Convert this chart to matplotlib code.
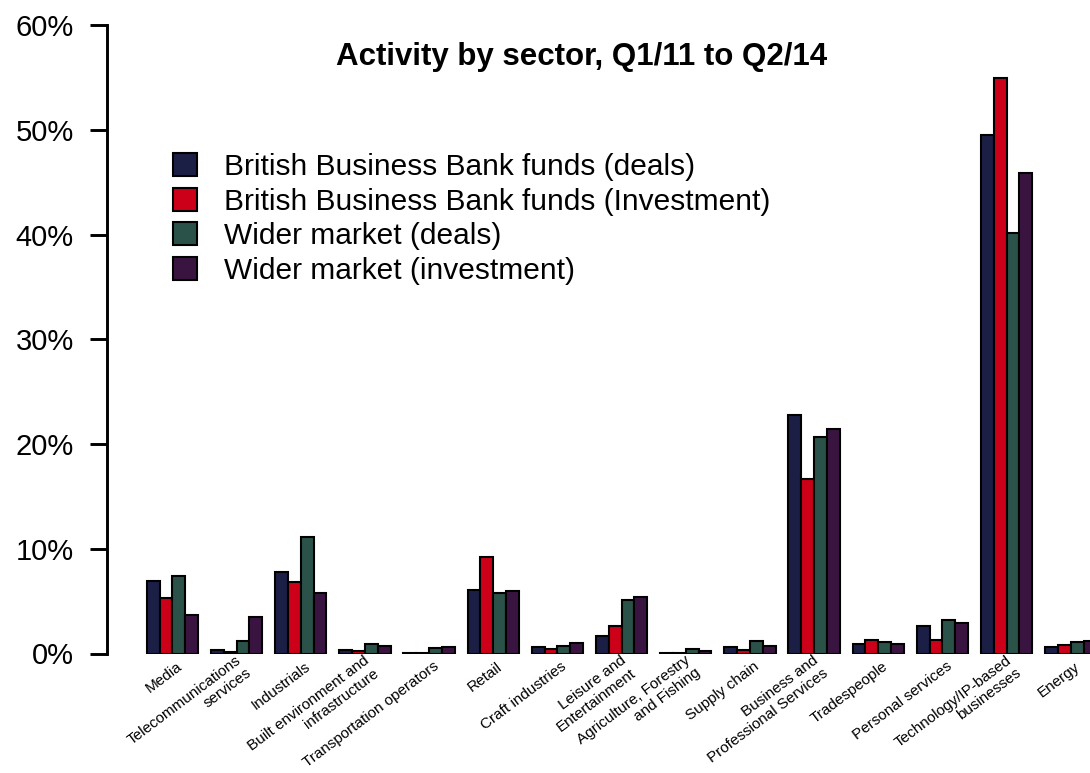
import numpy as np
import matplotlib
matplotlib.use("Agg")
import matplotlib.pyplot as plt
from matplotlib.patches import Patch

plt.rcParams['font.family'] = ['Liberation Sans', 'DejaVu Sans']

sectors = ["Media", "Telecommunications\nservices", "Industrials",
           "Built environment and\ninfrastructure", "Transportation operators",
           "Retail", "Craft industries", "Leisure and\nEntertainment",
           "Agriculture, Forestry\nand Fishing", "Supply chain",
           "Business and\nProfessional Services", "Tradespeople",
           "Personal services", "Technology/IP-based\nbusinesses", "Energy"]

# percent of activity
bbb_deals = [6.9, 0.3, 7.8, 0.3, 0.05, 6.1, 0.6, 1.7, 0.05, 0.6, 22.8, 0.9, 2.6, 49.5, 0.6]
bbb_invest = [5.3, 0.1, 6.8, 0.25, 0.05, 9.2, 0.4, 2.6, 0.05, 0.35, 16.7, 1.3, 1.3, 54.9, 0.85]
wider_deals = [7.4, 1.2, 11.1, 0.9, 0.5, 5.8, 0.7, 5.1, 0.4, 1.2, 20.7, 1.1, 3.2, 40.1, 1.1]
wider_invest = [3.7, 3.5, 5.8, 0.75, 0.65, 6.0, 1.0, 5.4, 0.25, 0.75, 21.4, 0.9, 2.9, 45.9, 1.2]

series_names = ["British Business Bank funds (deals)",
                "British Business Bank funds (Investment)",
                "Wider market (deals)",
                "Wider market (investment)"]
colors = ["#1c1f45", "#cc0018", "#2a5249", "#3a1440"]
series = [bbb_deals, bbb_invest, wider_deals, wider_invest]

fig = plt.figure(figsize=(10.9, 7.73), dpi=100)
ax = fig.add_axes([107 / 1090, 1 - 653.5 / 773, 1 - 107 / 1090, (653.5 - 25) / 773])

n = len(sectors)
group_start = 1 + 5 * np.arange(n)
for j in range(4):
    ax.bar(group_start + j + 0.5, series[j], width=1.0, color=colors[j],
           edgecolor="black", linewidth=1.5)

ax.set_xlim(-2.1, 74.5)
ax.set_ylim(0, 60)
ax.set_yticks(np.arange(0, 61, 10))
ax.set_yticklabels([str(v) + "%" for v in range(0, 61, 10)], fontsize=21)
ax.tick_params(axis='y', length=12, width=2.1, pad=12)
ax.set_xticks([])
for s in ['top', 'right', 'bottom']:
    ax.spines[s].set_visible(False)
ax.spines['left'].set_linewidth(2.1)

# sector labels, rotated under each group
for i in range(n):
    ax.text(group_start[i] + 2.6, -1.1, sectors[i], rotation=37, ha='right', va='center',
            rotation_mode='anchor', multialignment='right', fontsize=11, clip_on=False)

fig.text(582 / 1090, 1 - 57 / 773, "Activity by sector, Q1/11 to Q2/14",
         ha='center', va='center', fontsize=22.5, fontweight='bold')

handles = [Patch(facecolor=colors[j], edgecolor='black', linewidth=1.5) for j in range(4)]
fig.legend(handles, series_names, loc='upper left',
           bbox_to_anchor=(173 / 1090, 1 - 153 / 773), frameon=False, fontsize=21.5,
           handlelength=0.8, handleheight=0.8, handletextpad=0.9,
           labelspacing=0.22, borderpad=0, borderaxespad=0)

plt.savefig("out.png", dpi=100)
